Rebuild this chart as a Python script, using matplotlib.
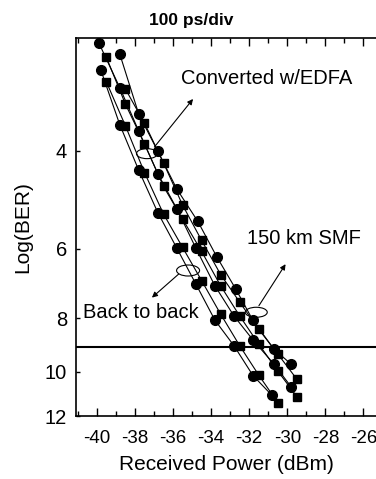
import numpy as np
import matplotlib
matplotlib.use("Agg")
import matplotlib.pyplot as plt
from matplotlib.patches import Ellipse
from matplotlib import transforms

plt.rcParams['font.family'] = ['Liberation Sans', 'DejaVu Sans']

# Received power (dBm) and -log10(BER)
# circles / squares, three conditions each
c_bb_x = [-39.8, -38.8, -37.8, -36.8, -35.8, -34.8, -33.8, -32.8, -31.8, -30.8]
c_bb_y = [2.86, 3.59, 4.34, 5.17, 5.99, 6.95, 8.07, 8.97, 10.15, 11.02]
s_bb_x = [-39.5, -38.5, -37.5, -36.5, -35.5, -34.5, -33.5, -32.5, -31.5, -30.5]
s_bb_y = [3.01, 3.61, 4.38, 5.20, 5.97, 6.85, 7.87, 8.97, 10.13, 11.35]

c_mid_x = [-39.9, -38.8, -37.8, -36.8, -35.8, -34.8, -33.8, -32.8, -31.8, -30.7, -29.8]
c_mid_y = [2.56, 3.08, 3.69, 4.40, 5.09, 5.99, 7.00, 7.93, 8.76, 9.68, 10.63]
s_mid_x = [-39.5, -38.5, -37.5, -36.5, -35.5, -34.5, -33.5, -32.5, -31.5, -30.5, -29.5]
s_mid_y = [2.72, 3.30, 3.89, 4.64, 5.31, 6.07, 7.00, 7.93, 8.91, 9.96, 11.07]

c_rt_x = [-38.8, -37.8, -36.8, -35.8, -34.7, -33.7, -32.7, -31.8, -30.7, -29.8]
c_rt_y = [2.68, 3.44, 4.01, 4.69, 5.36, 6.21, 7.10, 8.08, 9.10, 9.68]
s_rt_x = [-38.5, -37.5, -36.5, -35.5, -34.5, -33.5, -32.5, -31.5, -30.5, -29.5]
s_rt_y = [3.10, 3.57, 4.21, 5.01, 5.80, 6.68, 7.49, 8.38, 9.28, 10.30]

ber_limit = 9

x_ticks = [-40, -38, -36, -34, -32, -30, -28, -26]
y_ticks = [4, 6, 8, 10, 12]

fig = plt.figure(figsize=(3.76, 4.79), dpi=100)
ax = fig.add_axes([0.202, 0.1315, 0.80, 0.789])

circles = [(c_bb_x, c_bb_y), (c_mid_x, c_mid_y), (c_rt_x, c_rt_y)]
squares = [(s_bb_x, s_bb_y), (s_mid_x, s_mid_y), (s_rt_x, s_rt_y)]
for xs, ys in circles:
    ax.plot(xs, ys, color="black", lw=0.8, marker="o", ms=7, mfc="black", mec="black")
for xs, ys in squares:
    ax.plot(xs, ys, color="black", lw=0.8, marker="s", ms=6.3, mfc="black", mec="black")

ax.axhline(ber_limit, color="black", lw=1.5)

ax.set_yscale("log")
ax.set_xlim(-41.1, -25.3)
ax.set_ylim(12, 2.51)
ax.set_yticks(y_ticks)
ax.set_yticklabels([str(v) for v in y_ticks])
ax.yaxis.set_minor_locator(matplotlib.ticker.NullLocator())
ax.set_xticks(x_ticks)
ax.set_xticklabels([str(v) for v in x_ticks])
ax.set_xticks(np.arange(-41, -25, 2), minor=True)

ax.tick_params(axis="x", which="major", direction="in", length=6, width=1, top=True,
               labelsize=13.5, pad=10)
ax.tick_params(axis="x", which="minor", direction="in", length=3.5, width=1, top=True)
ax.tick_params(axis="y", which="major", direction="in", length=3, width=1,
               labelsize=14.5, pad=6.5)
for side in ["left", "bottom", "top"]:
    ax.spines[side].set_linewidth(1.2)
ax.spines["right"].set_visible(False)

ax.set_xlabel("Received Power (dBm)", fontsize=15, labelpad=6)
ax.set_ylabel("Log(BER)", fontsize=15, labelpad=9)
fig.text(0.508, 0.958, "100 ps/div", ha="center", va="center", fontsize=12.5,
         fontweight="bold")

# labels with ellipse and arrow
def ellipse_at(x, y, w, h):
    trans = fig.dpi_scale_trans + transforms.ScaledTranslation(x, y, ax.transData)
    ax.add_patch(Ellipse((0, 0), w, h, transform=trans, fill=False, lw=0.8,
                         color="black", clip_on=False))

arrow = dict(arrowstyle="-|>", color="black", lw=0.8, mutation_scale=8,
             shrinkA=0, shrinkB=0)

ellipse_at(-37.37, 4.05, 0.21, 0.10)
ax.annotate("", xy=(-34.95, 3.23), xytext=(-36.98, 3.94), arrowprops=arrow)
ax.text(-35.6, 2.97, "Converted w/EDFA", fontsize=14.5, va="center", ha="left")

ellipse_at(-31.63, 7.81, 0.22, 0.10)
ax.annotate("", xy=(-30.09, 6.40), xytext=(-31.49, 7.60), arrowprops=arrow)
ax.text(-32.14, 5.75, "150 km SMF", fontsize=14.5, va="center", ha="left")

ellipse_at(-35.21, 6.57, 0.23, 0.11)
ax.annotate("", xy=(-37.11, 7.35), xytext=(-35.71, 6.67), arrowprops=arrow)
ax.text(-40.74, 7.81, "Back to back", fontsize=14.5, va="center", ha="left")

fig.savefig("out.png", dpi=100)
